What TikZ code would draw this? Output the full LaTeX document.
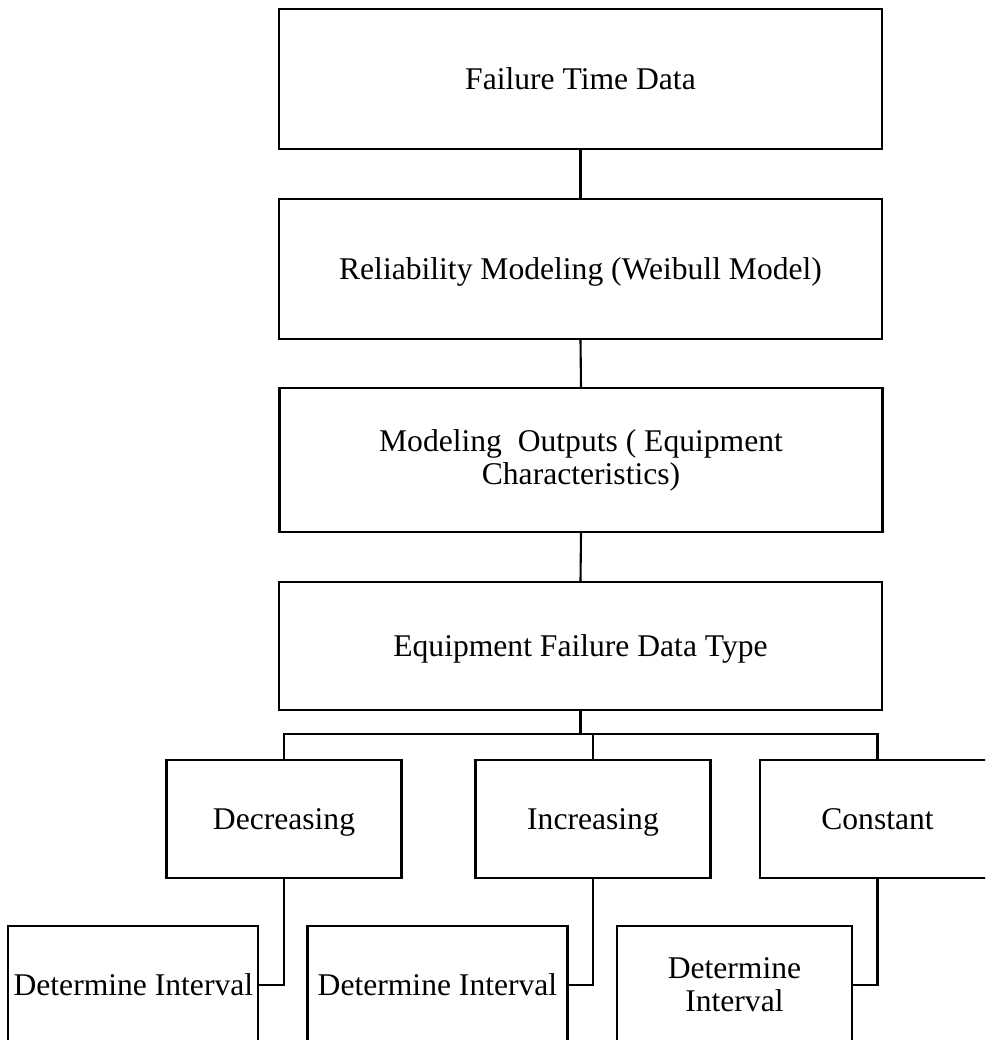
\documentclass[tikz,border=0pt]{standalone}
\usepackage{fontspec}
\setmainfont{Liberation Serif}
\begin{document}
\begin{tikzpicture}[x=1pt,y=-1pt,
  box/.style={draw=black, line width=2.1pt, rectangle, inner sep=0pt, align=center,
    font=\fontsize{31.6}{33}\selectfont},
  oneline/.style={text height=28pt, text depth=7pt},
  wide/.style={box, minimum width=603pt},
  small/.style={box, minimum width=235pt, minimum height=118pt},
  link/.style={draw=black, line width=2.1pt}]
\useasboundingbox (0,0) rectangle (985,1040);
\clip (0,0) rectangle (985,1040);

% main chain
\node[wide, oneline, minimum height=140pt] (ftd) at (580.5,79) {Failure Time Data};
\node[wide, oneline, minimum height=140pt] (rel) at (580.5,269) {Reliability Modeling (Weibull Model)};
\node[wide, minimum height=144pt] (out) at (581,460) {Modeling\ \ Outputs ( Equipment\\Characteristics)};
\node[wide, oneline, minimum height=128pt] (typ) at (580.5,646) {Equipment Failure Data Type};

% failure trend categories
\node[small, oneline] (dec) at (284,819) {Decreasing};
\node[small, oneline] (inc) at (593,819) {Increasing};
\node[small, oneline] (con) at (877.5,819) {Constant};

% interval boxes
\node[small, oneline, minimum width=250pt] (d1) at (259.4,985) [anchor=east] {Determine Interval};
\node[small, oneline, minimum width=260pt] (d2) at (568.5,985) [anchor=east] {Determine Interval};
\node[small] (d3) at (853,985) [anchor=east] {Determine\\Interval};

% connectors
\draw[link] (ftd.south) -- (rel.north);
\draw[link] (rel.south) -- (out.north);
\draw[link] (out.south) -- (typ.north);
\coordinate (bus) at (580.5,734);
\draw[link] (typ.south) -- (bus);
\draw[link] (bus) -| (dec.north);
\draw[link] (bus) -| (con.north);
\draw[link] (bus -| inc.north) -- (inc.north);
\draw[link] (dec.south) |- (d1.east);
\draw[link] (inc.south) |- (d2.east);
\draw[link] (con.south) |- (d3.east);
\end{tikzpicture}
\end{document}
